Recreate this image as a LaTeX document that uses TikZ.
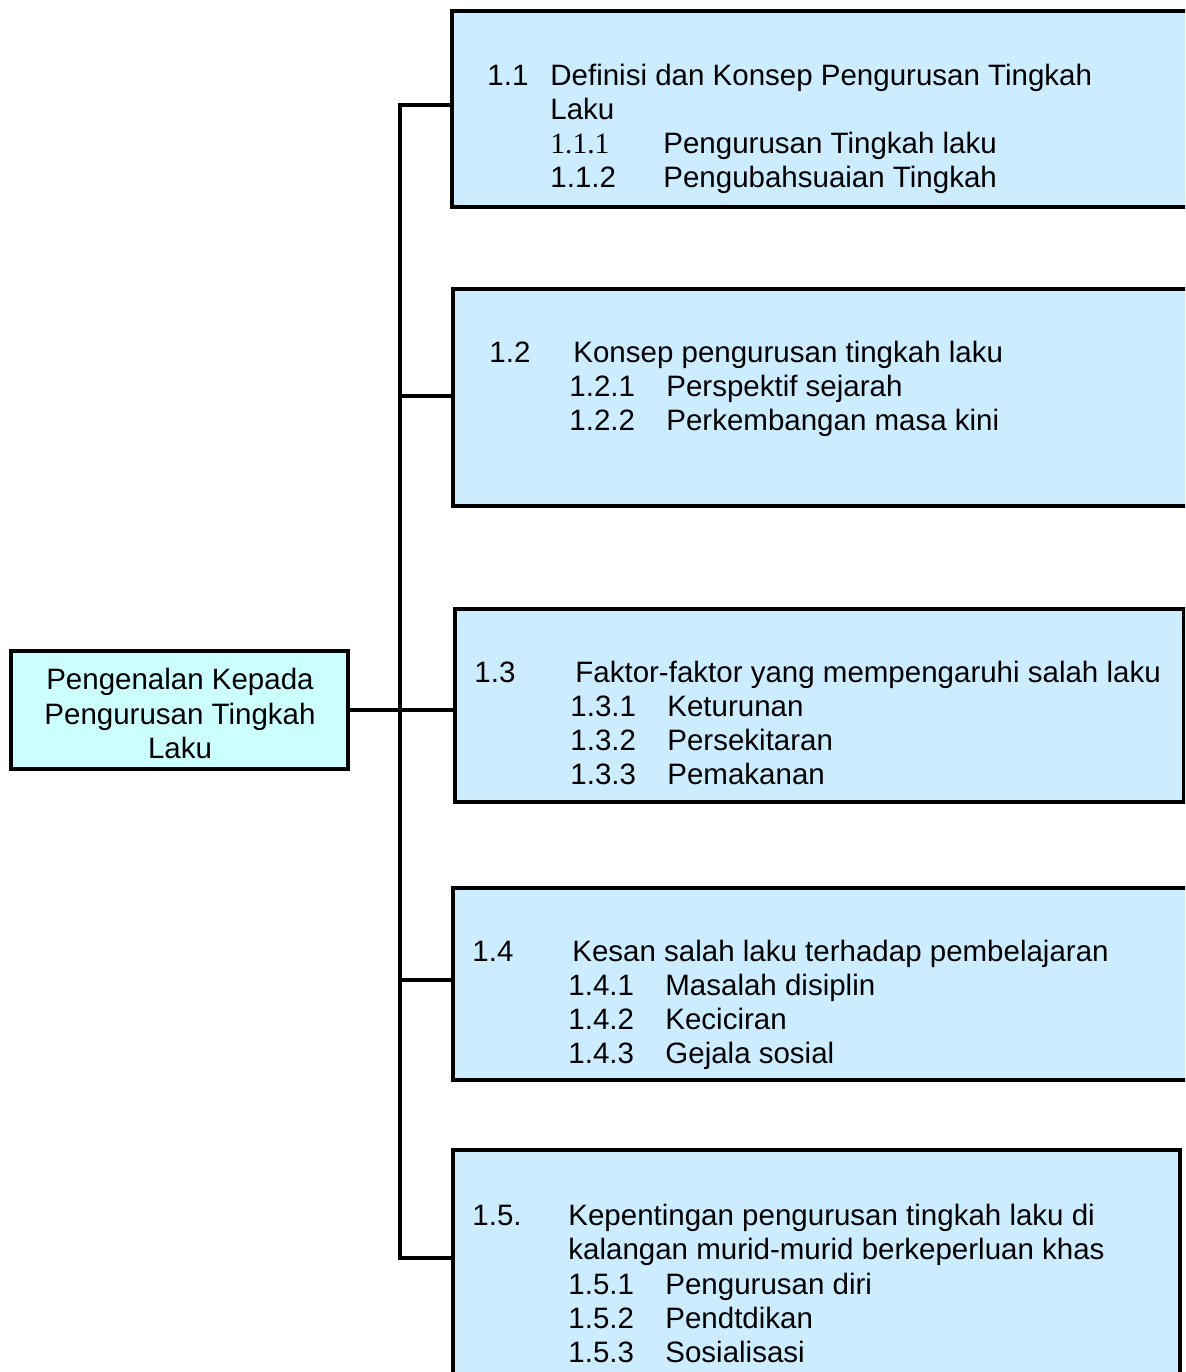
\documentclass[tikz,border=0pt]{standalone}
\usepackage{fontspec}
\setmainfont{Liberation Sans}
\newfontfamily\timesnum{Liberation Serif}
\usepackage{xcolor}
\usepackage{tikz}
\definecolor{boxblue}{HTML}{CCECFF}
\definecolor{headcyan}{HTML}{CCFFFF}
\newdimen\pxu \pxu=0.5pt
\newcommand{\numtab}[2]{\makebox[#1\pxu][l]{#2}}

\begin{document}
\begin{tikzpicture}[x=0.5pt, y=-0.5pt,
    topic/.style={draw=black, line width=2pt, fill=boxblue, anchor=north west, inner sep=0pt},
    headbox/.style={draw=black, line width=2pt, fill=headcyan, inner sep=0pt, minimum width=168.5pt, minimum height=59pt},
    item/.style={anchor=base west, inner sep=0pt, font=\fontsize{14.75}{17.15}\selectfont},
    link/.style={line width=2pt}]
    \useasboundingbox (0,0) rectangle (1185,1372);
    \clip (0,0) rectangle (1185,1372);

    % Main topic
    \node[headbox] (main) at (179.5,710) {};
    \node[item, anchor=center, align=center] (maintext) at (180,713.5) {Pengenalan Kepada\\Pengurusan Tingkah\\Laku};

    % Subtopic boxes
    \node[topic, minimum width=375pt, minimum height=98pt] (b1) at (450,9) {};
    \node[topic, minimum width=375pt, minimum height=108.5pt] (b2) at (451,287) {};
    \node[topic, minimum width=364.5pt, minimum height=96.5pt] (b3) at (453,607) {};
    \node[topic, minimum width=375pt, minimum height=96pt] (b4) at (451,886) {};
    \node[topic, minimum width=363.5pt, minimum height=114pt] (b5) at (451,1148) {};

    % Tree lines
    \coordinate (j1) at (400,105);
    \coordinate (j2) at (400,396);
    \coordinate (j4) at (400,980);
    \coordinate (j5) at (400,1258);
    \draw[link] (j1 -| b1.west) -- (j1) -- (j5) -- (j5 -| b5.west);
    \draw[link] (j2) -- (j2 -| b2.west);
    \draw[link] (main.east) -- (main.east -| b3.west);
    \draw[link] (j4) -- (j4 -| b4.west);

    % 1.1
    \node[item] (t11) at (487,85) {\numtab{63}{1.1}Definisi dan Konsep Pengurusan Tingkah};
    \node[item] (t11b) at (550,119) {Laku};
    \node[item] (t111) at (550,153) {\numtab{113}{\timesnum 1.1.1}Pengurusan Tingkah laku};
    \node[item] (t112) at (550,187) {\numtab{113}{1.1.2}Pengubahsuaian Tingkah};

    % 1.2
    \node[item] (t12) at (489,362) {\numtab{84}{1.2}Konsep pengurusan tingkah laku};
    \node[item] (t121) at (569,396) {\numtab{97}{1.2.1}Perspektif sejarah};
    \node[item] (t122) at (569,430) {\numtab{97}{1.2.2}Perkembangan masa kini};

    % 1.3
    \node[item] (t13) at (474,682) {\numtab{101}{1.3}Faktor-faktor yang mempengaruhi salah laku};
    \node[item] (t131) at (570,716) {\numtab{97}{1.3.1}Keturunan};
    \node[item] (t132) at (570,750) {\numtab{97}{1.3.2}Persekitaran};
    \node[item] (t133) at (570,784) {\numtab{97}{1.3.3}Pemakanan};

    % 1.4
    \node[item] (t14) at (472,961) {\numtab{100}{1.4}Kesan salah laku terhadap pembelajaran};
    \node[item] (t141) at (568,995) {\numtab{97}{1.4.1}Masalah disiplin};
    \node[item] (t142) at (568,1029) {\numtab{97}{1.4.2}Keciciran};
    \node[item] (t143) at (568,1063) {\numtab{97}{1.4.3}Gejala sosial};

    % 1.5
    \node[item] (t15) at (472,1225) {\numtab{96}{1.5.}Kepentingan pengurusan tingkah laku di};
    \node[item] (t15b) at (568,1259) {kalangan murid-murid berkeperluan khas};
    \node[item] (t151) at (568,1294) {\numtab{97}{1.5.1}Pengurusan diri};
    \node[item] (t152) at (568,1328) {\numtab{97}{1.5.2}Pendtdikan};
    \node[item] (t153) at (568,1362) {\numtab{97}{1.5.3}Sosialisasi};
\end{tikzpicture}
\end{document}
